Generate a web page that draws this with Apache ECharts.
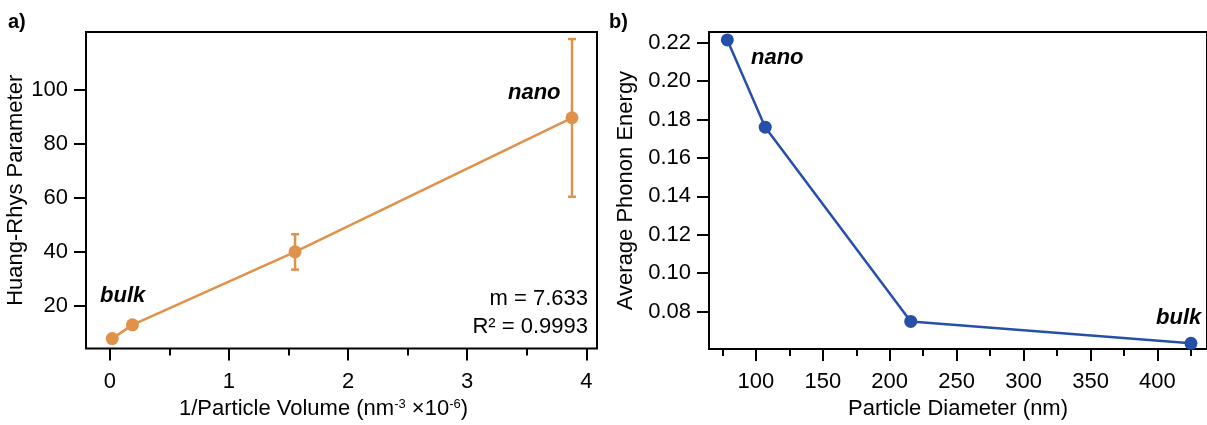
<!DOCTYPE html>
<html>
<head>
<meta charset="utf-8">
<script src="https://cdn.jsdelivr.net/npm/echarts@6/dist/echarts.min.js"></script>
<style>
  html, body { margin: 0; padding: 0; background: #fff; }
  #chart { width: 1207px; height: 425px; }
</style>
</head>
<body>
<div id="chart"></div>
<script>
// panel a) Huang-Rhys parameter vs 1/particle volume
const volX = [0.02, 0.19, 1.555, 3.88]
const hrY = [7.7, 12.8, 39.9, 89.6]
const hrErrLow = [null, null, 33.3, 60.3]
const hrErrHigh = [null, null, 46.4, 118.8]
const aTicksX = [0, 1, 2, 3, 4]
const aMinorX = [0.5, 1.5, 2.5, 3.5]
const aTicksY = [20, 40, 60, 80, 100]

// panel b) average phonon energy vs particle diameter
const diamX = [78.7, 107, 215.7, 425]
const phononY = [0.2214, 0.176, 0.0749, 0.0635]
const bTicksX = [100, 150, 200, 250, 300, 350, 400]
const bMinorX = [75, 125, 175, 225, 275, 325, 375, 425]
const bTicksY = [0.08, 0.10, 0.12, 0.14, 0.16, 0.18, 0.20, 0.22]

const orange = '#E0914A'
const blue = '#2550A8'
const font = 'Arial, "Liberation Sans", sans-serif'
const fs = 22

const chart = echarts.init(document.getElementById('chart'))

function tickAxis(ticks, len) {
  return {
    show: true,
    length: len,
    inside: false,
    customValues: ticks,
    lineStyle: {color: '#000', width: 2}
  }
}

function mainX(gridIndex, min, max, ticks, name, pad) {
  return {
    type: 'value',
    gridIndex: gridIndex,
    min: min,
    max: max,
    position: 'bottom',
    splitLine: {show: false},
    axisLine: {show: false, onZero: false},
    axisTick: tickAxis(ticks, 12),
    axisLabel: {
      customValues: ticks,
      color: '#000',
      fontFamily: font,
      fontSize: fs,
      margin: 22
    },
    name: name,
    nameLocation: 'middle',
    nameGap: 45,
    nameTextStyle: {
      color: '#000',
      fontFamily: font,
      fontSize: fs,
      padding: pad,
      rich: {
        n: {fontFamily: font, fontSize: fs, color: '#000'},
        s: {fontFamily: font, fontSize: 13, color: '#000', verticalAlign: 'top', padding: [0, 0, 10, 0]}
      }
    }
  }
}

function minorX(gridIndex, min, max, ticks) {
  return {
    type: 'value',
    gridIndex: gridIndex,
    min: min,
    max: max,
    position: 'bottom',
    splitLine: {show: false},
    axisLine: {show: false, onZero: false},
    axisTick: tickAxis(ticks, 7),
    axisLabel: {show: false}
  }
}

function mainY(gridIndex, min, max, ticks, name, gap, fmt) {
  return {
    type: 'value',
    gridIndex: gridIndex,
    min: min,
    max: max,
    position: 'left',
    splitLine: {show: false},
    axisLine: {show: false, onZero: false},
    axisTick: tickAxis(ticks, 12),
    axisLabel: {
      customValues: ticks,
      color: '#000',
      fontFamily: font,
      fontSize: fs,
      margin: 18,
      formatter: fmt
    },
    name: name,
    nameLocation: 'middle',
    nameGap: gap,
    nameTextStyle: {color: '#000', fontFamily: font, fontSize: fs}
  }
}

const option = {
  animation: false,
  backgroundColor: '#fff',
  grid: [
    {left: 86, top: 32, width: 511, height: 321, show: true, borderColor: '#000', borderWidth: 2},
    {left: 709, top: 32, width: 510, height: 321, show: true, borderColor: '#000', borderWidth: 2}
  ],
  xAxis: [
    mainX(0, -0.2, 4.09, aTicksX, '{n|1/Particle Volume (nm}{s|-3}{n| ×10}{s|-6}{n|)}', [0, 36, 0, 0]),
    minorX(0, -0.2, 4.09, aMinorX),
    mainX(1, 65, 437, bTicksX, 'Particle Diameter (nm)', [0, 0, 0, 0]),
    minorX(1, 65, 437, bMinorX)
  ],
  yAxis: [
    mainY(0, 4, 121.4, aTicksY, 'Huang-Rhys Parameter', 57, v => String(v)),
    mainY(1, 0.0605, 0.2255, bTicksY, 'Average Phonon Energy', 72, v => v.toFixed(2))
  ],
  series: [
    {
      type: 'line',
      xAxisIndex: 0,
      yAxisIndex: 0,
      data: volX.map((x, i) => [x, hrY[i]]),
      symbol: 'circle',
      symbolSize: 13,
      itemStyle: {color: orange},
      lineStyle: {color: orange, width: 2.5},
      z: 3
    },
    {
      type: 'custom',
      xAxisIndex: 0,
      yAxisIndex: 0,
      data: volX.map((x, i) => [x, hrErrLow[i], hrErrHigh[i]]).filter(d => d[1] != null),
      renderItem: function(params, api) {
        const lo = api.coord([api.value(0), api.value(1)])
        const hi = api.coord([api.value(0), api.value(2)])
        const w = 4
        const st = {stroke: orange, lineWidth: 2.5}
        return {
          type: 'group',
          children: [
            {type: 'line', shape: {x1: lo[0], y1: lo[1], x2: hi[0], y2: hi[1]}, style: st},
            {type: 'line', shape: {x1: lo[0] - w, y1: lo[1], x2: lo[0] + w, y2: lo[1]}, style: st},
            {type: 'line', shape: {x1: hi[0] - w, y1: hi[1], x2: hi[0] + w, y2: hi[1]}, style: st}
          ]
        }
      },
      z: 2
    },
    {
      type: 'line',
      xAxisIndex: 2,
      yAxisIndex: 1,
      data: diamX.map((x, i) => [x, phononY[i]]),
      symbol: 'circle',
      symbolSize: 13,
      itemStyle: {color: blue},
      lineStyle: {color: blue, width: 2.5},
      z: 3
    }
  ],
  graphic: [
    {type: 'text', left: 8, top: 12, style: {text: 'a)', font: 'bold 20px ' + font, fill: '#000'}},
    {type: 'text', left: 609, top: 12, style: {text: 'b)', font: 'bold 20px ' + font, fill: '#000'}},
    {type: 'text', left: 100, top: 285, style: {text: 'bulk', font: 'italic bold 22px ' + font, fill: '#000'}},
    {type: 'text', left: 508, top: 82, style: {text: 'nano', font: 'italic bold 22px ' + font, fill: '#000'}},
    {type: 'text', right: 619, top: 288, style: {text: 'm = 7.633', font: fs + 'px ' + font, fill: '#000'}},
    {type: 'text', right: 619, top: 316, style: {text: 'R² = 0.9993', font: fs + 'px ' + font, fill: '#000'}},
    {type: 'text', left: 751, top: 47, style: {text: 'nano', font: 'italic bold 22px ' + font, fill: '#000'}},
    {type: 'text', left: 1156, top: 307, style: {text: 'bulk', font: 'italic bold 22px ' + font, fill: '#000'}}
  ]
}

chart.setOption(option)
</script>
</body>
</html>
